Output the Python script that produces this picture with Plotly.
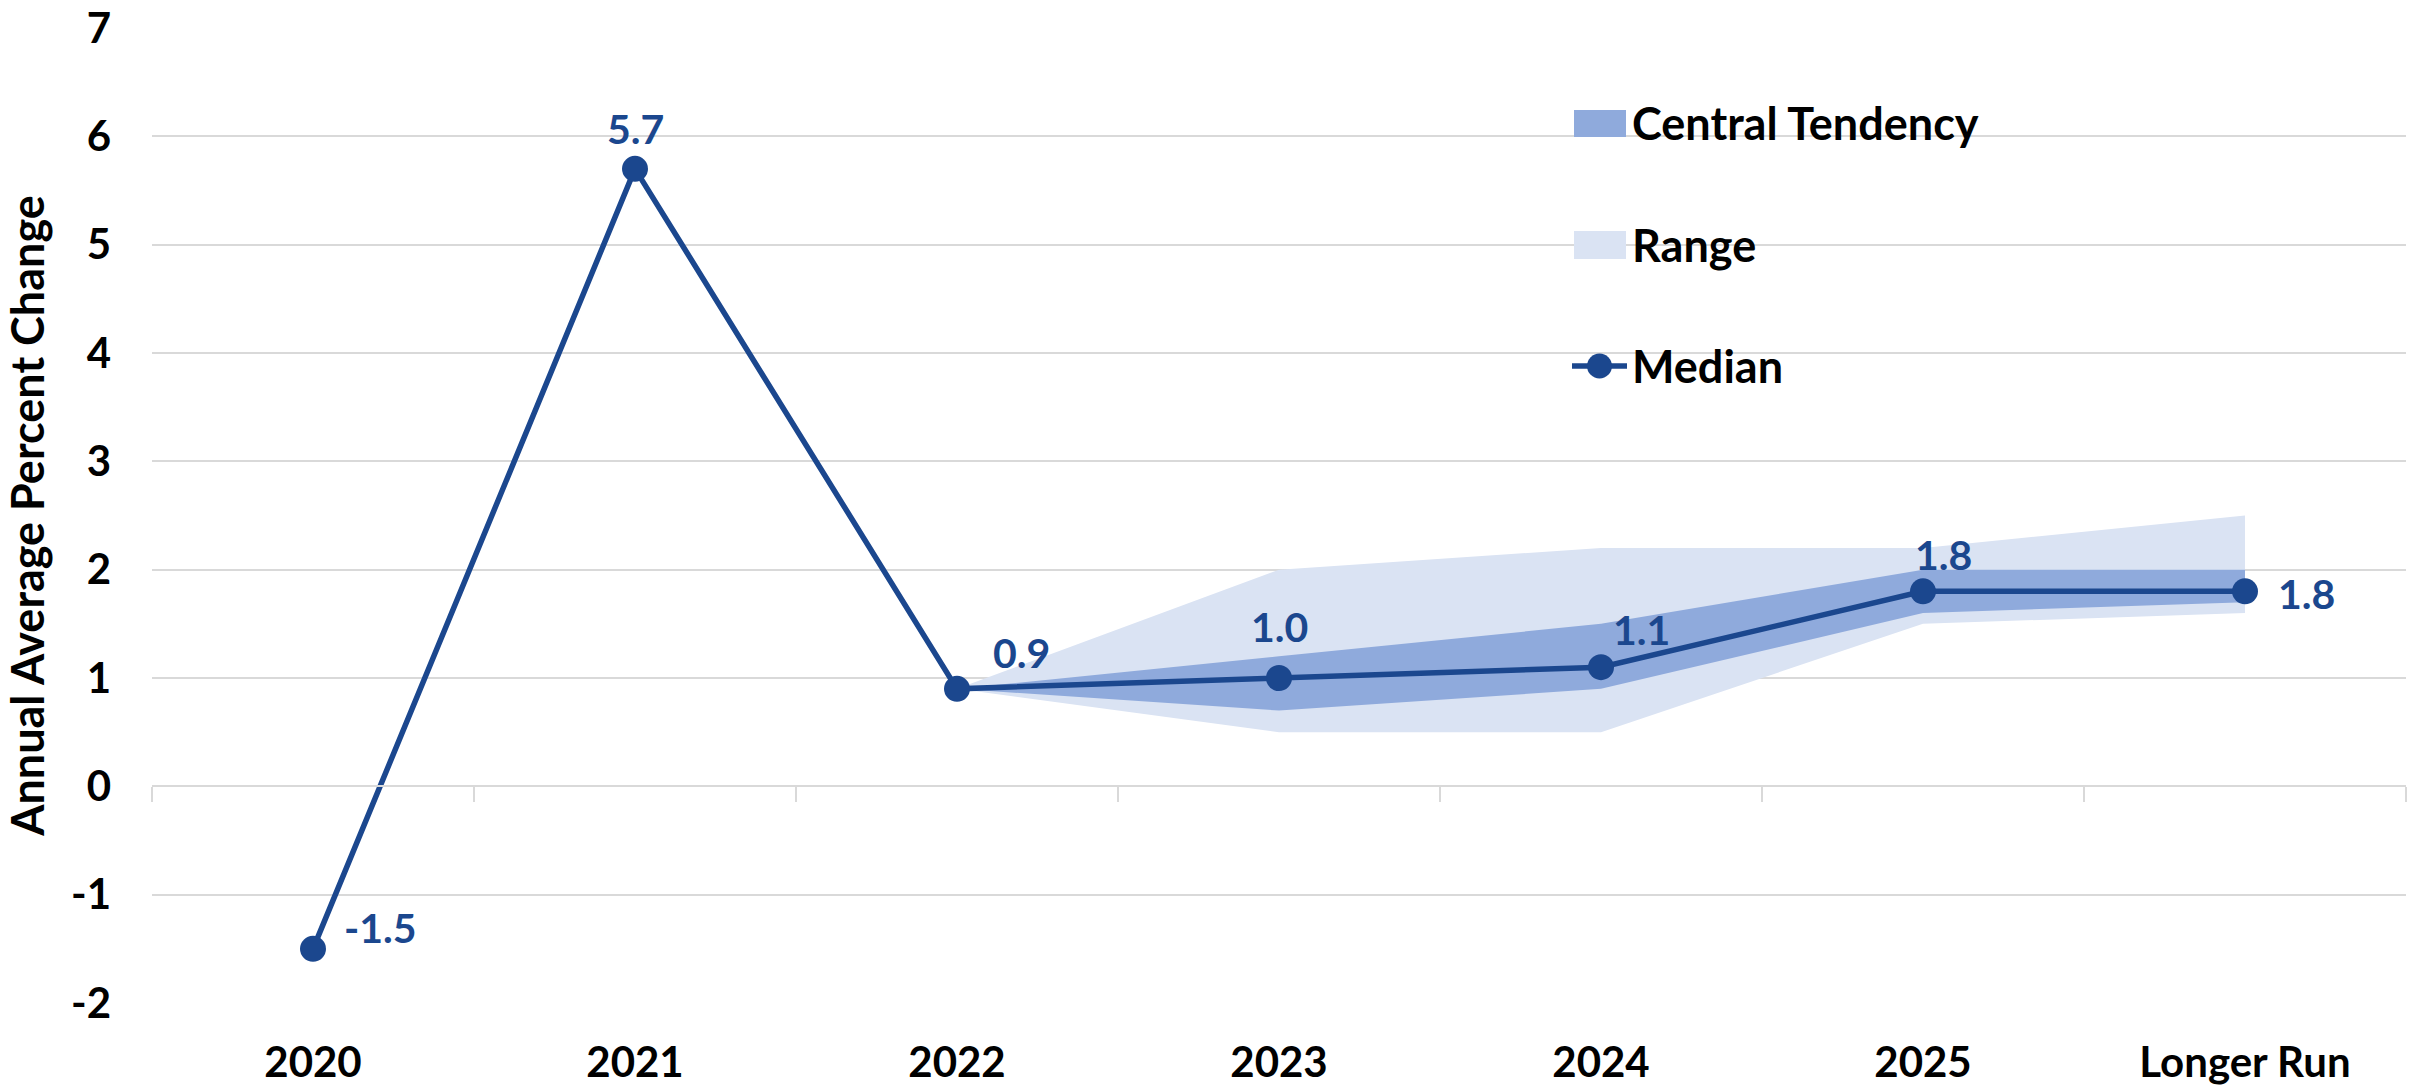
import plotly.graph_objects as go

# ---- data ----
categories = ["2020", "2021", "2022", "2023", "2024", "2025", "Longer Run"]
median = [-1.5, 5.7, 0.9, 1.0, 1.1, 1.8, 1.8]

proj_categories = ["2022", "2023", "2024", "2025", "Longer Run"]
range_upper = [0.9, 2.0, 2.2, 2.2, 2.5]
range_lower = [0.9, 0.5, 0.5, 1.5, 1.6]
ct_upper = [0.9, 1.2, 1.5, 2.0, 2.0]
ct_lower = [0.9, 0.7, 0.9, 1.6, 1.7]

y_ticks = [-2, -1, 0, 1, 2, 3, 4, 5, 6, 7]

# ---- styles ----
FONT = "Lato"
DARK = "#1B478E"
CT_COLOR = "#8FAADC"
RANGE_COLOR = "#DAE3F3"
GRID = "#D9D9D9"

# label placement per point: (xanchor, xshift, yshift)
label_pos = [("left", 29, 21), ("center", 0, 40), ("left", 34, 36),
             ("center", 0, 52), ("center", 40, 38), ("center", 20, 37),
             ("left", 31, -2)]

fig = go.Figure()

fig.add_trace(go.Scatter(
    x=proj_categories + proj_categories[::-1],
    y=range_upper + range_lower[::-1],
    fill="toself", fillcolor=RANGE_COLOR, mode="none",
    name="Range", showlegend=False, hoverinfo="skip"))

fig.add_trace(go.Scatter(
    x=proj_categories + proj_categories[::-1],
    y=ct_upper + ct_lower[::-1],
    fill="toself", fillcolor=CT_COLOR, mode="none",
    name="Central Tendency", showlegend=False, hoverinfo="skip"))

fig.add_trace(go.Scatter(
    x=categories, y=median, mode="lines+markers",
    line=dict(color=DARK, width=5.5),
    marker=dict(color=DARK, size=26),
    name="Median", showlegend=False))

# invisible trace to carry the zero-crossing category axis with boundary ticks
fig.add_trace(go.Scatter(
    x=categories, y=median, xaxis="x2", mode="markers",
    marker=dict(opacity=0), showlegend=False, hoverinfo="skip"))

# data labels (x given as category index so numeric-looking names stay categories)
for i, (v, (xa, xs, ys)) in enumerate(zip(median, label_pos)):
    fig.add_annotation(x=i, y=v, text=f"{v:.1f}", showarrow=False,
                       xanchor=xa, yanchor="middle", xshift=xs, yshift=ys,
                       font=dict(family=FONT, size=41, color=DARK, weight=700))

# ---- manual legend (paper coords) ----
def px_x(p):
    return (p - 152) / 2254

def px_y(p):
    return (1003 - p) / 975

fig.add_shape(type="rect", xref="paper", yref="paper",
              x0=px_x(1574), x1=px_x(1626), y0=px_y(137), y1=px_y(110),
              fillcolor=CT_COLOR, line=dict(width=0), layer="above")
fig.add_shape(type="rect", xref="paper", yref="paper",
              x0=px_x(1574), x1=px_x(1626), y0=px_y(259), y1=px_y(231),
              fillcolor=RANGE_COLOR, line=dict(width=0), layer="above")
fig.add_shape(type="line", xref="paper", yref="paper",
              x0=px_x(1572), x1=px_x(1627), y0=px_y(366), y1=px_y(366),
              line=dict(color=DARK, width=5.5), layer="above")
fig.add_shape(type="circle", xref="paper", yref="paper",
              x0=px_x(1587), x1=px_x(1612), y0=px_y(378.5), y1=px_y(353.5),
              fillcolor=DARK, line=dict(width=0), layer="above")
for txt, yc in [("Central Tendency", 123), ("Range", 245), ("Median", 366)]:
    fig.add_annotation(xref="paper", yref="paper", x=px_x(1630), y=px_y(yc),
                       text=txt, showarrow=False, xanchor="left", yanchor="middle",
                       font=dict(family=FONT, size=45, color="#000000", weight=700))

fig.update_layout(
    template="none",
    width=2415, height=1088,
    margin=dict(l=152, r=9, t=28, b=85, pad=0),
    paper_bgcolor="white", plot_bgcolor="white",
    showlegend=False,
    font=dict(family=FONT, size=40, color="#000000", weight=700),
    xaxis=dict(type="category", categoryorder="array", categoryarray=categories,
               range=[-0.5, 6.5], showgrid=False, zeroline=False, showline=False,
               automargin=False, ticks="", ticklabelstandoff=31,
               tickfont=dict(family=FONT, size=42, color="#000000", weight=700)),
    xaxis2=dict(type="category", categoryorder="array", categoryarray=categories,
                range=[-0.5, 6.5], overlaying="x", anchor="free", position=2 / 9,
                automargin=False,
                showgrid=False, zeroline=False, showline=True, linecolor=GRID,
                linewidth=2, ticks="outside", tickson="boundaries", ticklen=15,
                tickwidth=2, tickcolor=GRID, showticklabels=False),
    yaxis=dict(range=[-2, 7], tickvals=y_ticks, ticktext=[str(v) for v in y_ticks],
               showgrid=True, gridcolor=GRID,
               gridwidth=2, zeroline=False, showline=False, ticks="",
               automargin=False, ticklabelstandoff=40,
               tickfont=dict(family=FONT, size=42, color="#000000", weight=700),
               title=dict(text="Annual Average Percent Change", standoff=12,
                          font=dict(family=FONT, size=45, color="#000000", weight=700))),
)

fig.write_html("out.html", config={"displayModeBar": False},
               post_script="document.body.style.margin='0';")
